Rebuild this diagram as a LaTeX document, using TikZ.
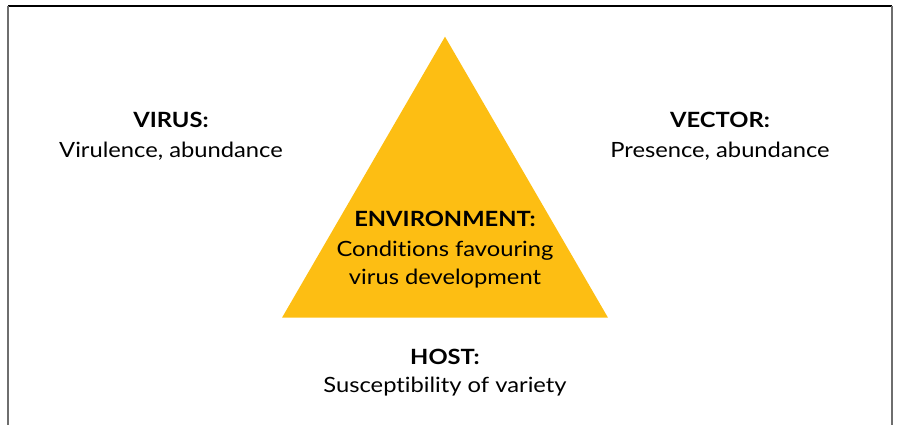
\documentclass[tikz,border=0pt]{standalone}
\usepackage{fontspec}
\setmainfont{Lato}[FakeStretch=1.13, Ligatures={NoCommon}]
\definecolor{tri}{HTML}{FDBE13}
\definecolor{sideline}{HTML}{6E6E6E}
\begin{document}
\begin{tikzpicture}[x=1pt,y=1pt,
  head/.style={font=\fontsize{21}{21}\selectfont\bfseries, anchor=base, inner sep=0pt},
  body/.style={font=\fontsize{21}{21}\selectfont, anchor=base, inner sep=0pt}]
\useasboundingbox (0,0) rectangle (897,425);
% frame
\draw[line width=1.5pt, black] (8,419) -- (892,419);
\draw[line width=1.5pt, sideline] (8,419) -- (8,0);
\draw[line width=1.5pt, sideline] (892,419) -- (892,0);
% triangle
\coordinate (apex) at (445,388.3);
\coordinate (bl) at (282,107.3);
\coordinate (br) at (608,107.3);
\fill[tri] (apex) -- (bl) -- (br) -- cycle;
% texts
\node[head] (virush) at (171,297) {VIRUS:};
\node[body] (virusb) at (171,267) {Virulence, abundance};
\node[head] (vectorh) at (720,297) {VECTOR:};
\node[body] (vectorb) at (720,267) {Presence, abundance};
\node[head] (envh) at (445,198.3) {ENVIRONMENT:};
\node[body] (envb1) at (445,168.3) {Conditions favouring};
\node[body] (envb2) at (445,140) {virus development};
\node[head] (hosth) at (445,60) {HOST:};
\node[body] (hostb) at (445,32) {Susceptibility of variety};
\end{tikzpicture}
\end{document}
